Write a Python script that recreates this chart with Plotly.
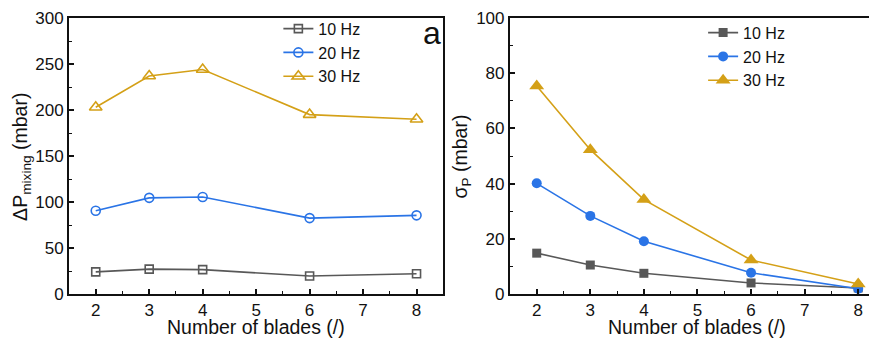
import plotly.graph_objects as go

blades = [2, 3, 4, 6, 8]
series_names = ["10 Hz", "20 Hz", "30 Hz"]
dp_10 = [24, 27, 26.5, 19.5, 22]
dp_20 = [90.5, 104.5, 105.5, 82.5, 85.5]
dp_30 = [203, 237, 244, 195, 190]
sig_10 = [14.8, 10.5, 7.5, 4.0, 2.2]
sig_20 = [40.1, 28.3, 19.1, 7.7, 1.9]
sig_30 = [75.4, 52.3, 34.2, 12.3, 3.6]
x_ticks = [2, 3, 4, 5, 6, 7, 8]

colors = ["#585858", "#2a74e6", "#d4a017"]
open_symbols = ["square-open", "circle-open", "triangle-up-open"]
filled_symbols = ["square", "circle", "triangle-up"]
open_sizes = [8, 9, 11]
filled_sizes = [9, 10, 13]

FONT = "Arial, Liberation Sans, sans-serif"
fig = go.Figure()

for name, vals, c, s, sz in zip(series_names, [dp_10, dp_20, dp_30], colors, open_symbols, open_sizes):
    fig.add_trace(go.Scatter(x=blades, y=vals, name=name, mode="lines+markers",
                             line=dict(color=c, width=1.6),
                             marker=dict(symbol=s, size=sz, color=c, line=dict(width=1.6, color=c)),
                             xaxis="x", yaxis="y", legend="legend"))

for name, vals, c, s, sz in zip(series_names, [sig_10, sig_20, sig_30], colors, filled_symbols, filled_sizes):
    fig.add_trace(go.Scatter(x=blades, y=vals, name=name, mode="lines+markers",
                             line=dict(color=c, width=1.6),
                             marker=dict(symbol=s, size=sz, color=c, line=dict(width=0)),
                             xaxis="x2", yaxis="y2", legend="legend2"))

# Figure coordinates (page has an 8px body offset; panel b runs past the window edge)
W, H = 890, 338
PLOT_RIGHT = 877
ML, MT, MB = 60.5, 10.3, 52
PW = PLOT_RIGHT - ML
PH = H - MT - MB


def px(fx):
    return (fx - ML) / PW


def py(fy):
    return (H - MB - fy) / PH


tickfont = dict(family=FONT, size=17, color="#111")
titlefont = dict(family=FONT, size=19.5, color="#111")

common_x = dict(showgrid=False, zeroline=False, showline=True, linecolor="#111", linewidth=2,
                ticks="inside", ticklen=5, tickwidth=1.5, tickcolor="#111", automargin=False,
                tickvals=x_ticks, tickfont=tickfont,
                minor=dict(dtick=0.5, tick0=1.5, ticks="inside", ticklen=3, tickwidth=1.2, tickcolor="#111"))
common_y = dict(showgrid=False, zeroline=False, showline=True, linecolor="#111", linewidth=2,
                ticks="inside", ticklen=5, tickwidth=1.5, tickcolor="#111", tickfont=tickfont,
                automargin=False)

fig.update_layout(
    width=W, height=H, margin=dict(l=ML, r=W - PLOT_RIGHT, t=MT, b=MB, autoexpand=False),
    paper_bgcolor="white", plot_bgcolor="white",
    font=dict(family=FONT, color="#111"),
    xaxis=dict(common_x, domain=[0, px(435)], range=[1.5, 8.5], anchor="y", mirror=True),
    yaxis=dict(common_y, domain=[0, 1], range=[0, 300], dtick=50, anchor="x", mirror=True,
               minor=dict(dtick=25, ticks="inside", ticklen=3, tickwidth=1.2, tickcolor="#111")),
    xaxis2=dict(common_x, domain=[px(501.7), 1.0], range=[1.5, 8.5], anchor="y2", mirror=True),
    yaxis2=dict(common_y, domain=[0, 1], range=[0, 100], dtick=20, anchor="x2", mirror=True,
                minor=dict(dtick=10, ticks="inside", ticklen=3, tickwidth=1.2, tickcolor="#111")),
    legend=dict(x=px(270), y=py(4), xanchor="left", yanchor="top",
                bgcolor="rgba(0,0,0,0)", font=dict(family=FONT, size=16, color="#111"),
                tracegroupgap=0, itemwidth=30),
    legend2=dict(x=px(695), y=py(8), xanchor="left", yanchor="top",
                 bgcolor="rgba(0,0,0,0)", font=dict(family=FONT, size=16, color="#111"),
                 tracegroupgap=0, itemwidth=30),
    showlegend=True,
    annotations=[
        dict(text="Number of blades (/)", x=px(248), y=py(318.5), xref="paper", yref="paper",
             showarrow=False, font=titlefont, xanchor="center", yanchor="middle"),
        dict(text="Number of blades (/)", x=px(689), y=py(318.5), xref="paper", yref="paper",
             showarrow=False, font=titlefont, xanchor="center", yanchor="middle"),
        dict(text="ΔP<sub>mixing</sub> (mbar)", x=px(13), y=py(149.5), xref="paper", yref="paper",
             showarrow=False, font=titlefont, textangle=-90, xanchor="center", yanchor="middle"),
        dict(text="σ<sub>P</sub> (mbar)", x=px(453), y=py(148.5), xref="paper", yref="paper",
             showarrow=False, font=titlefont, textangle=-90, xanchor="center", yanchor="middle"),
        dict(text="a", x=px(424), y=py(25), xref="paper", yref="paper",
             showarrow=False, font=dict(family=FONT, size=32, color="#111"), xanchor="center", yanchor="middle"),
        dict(text="b", x=px(862), y=py(27), xref="paper", yref="paper",
             showarrow=False, font=dict(family=FONT, size=32, color="#111"), xanchor="left", yanchor="middle"),
    ],
)

fig.write_html("out.html")
